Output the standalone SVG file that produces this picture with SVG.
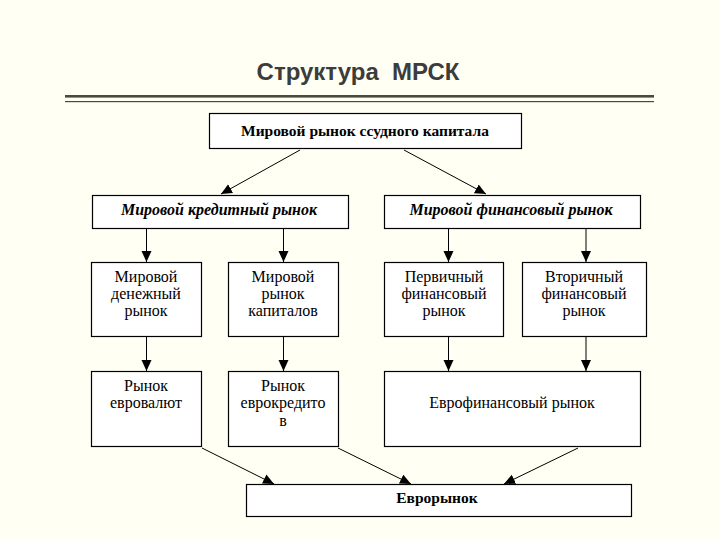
<svg xmlns="http://www.w3.org/2000/svg" width="720" height="540" viewBox="0 0 720 540">
<defs>
<style>
.bg{fill:#FFFFF3}
.box{fill:#FFFFFF;stroke:#000000;stroke-width:1.2}
.t{font-family:"Liberation Serif","Times New Roman",serif;font-size:16px;fill:#000;text-anchor:middle}
.b{font-weight:bold;font-size:15.5px}
.bi{font-weight:bold;font-style:italic;font-size:16px}
.title{font-family:"Liberation Sans",Arial,sans-serif;font-size:24px;font-weight:bold;fill:#3C3C3C;text-anchor:middle;white-space:pre}
.c{stroke:#000;stroke-width:1;fill:none}
</style>
<marker id="ah" markerUnits="userSpaceOnUse" markerWidth="12" markerHeight="12" viewBox="0 0 12 12" refX="11" refY="6" orient="auto">
<path d="M0,1 L11,6 L0,11 Z" fill="#000"/>
</marker>
</defs>
<rect class="bg" x="0" y="0" width="720" height="540"/>
<text class="title" x="358" y="80" xml:space="preserve">Структура  МРСК</text>
<rect x="65" y="95" width="589" height="2.6" fill="#4A4A3E"/>
<rect x="65" y="101" width="589" height="1.2" fill="#4A4A3E"/>

<g id="n-root"><rect class="box" x="209.5" y="113.5" width="312" height="35"/><text class="t b" x="365" y="136">Мировой рынок ссудного капитала</text></g>
<g id="n-credit"><rect class="box" x="92.5" y="195.5" width="256" height="33"/><text class="t bi" x="219" y="215">Мировой кредитный рынок</text></g>
<g id="n-fin"><rect class="box" x="384.5" y="195.5" width="256" height="33"/><text class="t bi" x="511" y="215">Мировой финансовый рынок</text></g>

<g id="n-money"><rect class="box" x="91.5" y="262.5" width="110" height="74"/><text class="t" x="146" y="282">Мировой<tspan x="146" y="299">денежный</tspan><tspan x="146" y="316">рынок</tspan></text></g>
<g id="n-capital"><rect class="box" x="228.5" y="262.5" width="110" height="74"/><text class="t" x="283" y="282">Мировой<tspan x="283" y="299">рынок</tspan><tspan x="283" y="316">капиталов</tspan></text></g>
<g id="n-primary"><rect class="box" x="384.5" y="262.5" width="119" height="74"/><text class="t" x="444" y="282">Первичный<tspan x="444" y="299">финансовый</tspan><tspan x="444" y="316">рынок</tspan></text></g>
<g id="n-secondary"><rect class="box" x="522.5" y="262.5" width="124" height="74"/><text class="t" x="584" y="282">Вторичный<tspan x="584" y="299">финансовый</tspan><tspan x="584" y="316">рынок</tspan></text></g>

<g id="n-eurocur"><rect class="box" x="91.5" y="371.5" width="110" height="75"/><text class="t" x="146" y="391">Рынок<tspan x="146" y="408">евровалют</tspan></text></g>
<g id="n-eurocred"><rect class="box" x="228.5" y="371.5" width="110" height="75"/><text class="t" x="283" y="391">Рынок<tspan x="283" y="408">еврокредито</tspan><tspan x="283" y="426">в</tspan></text></g>
<g id="n-eurofin"><rect class="box" x="384.5" y="371.5" width="256" height="75"/><text class="t" x="512" y="408">Еврофинансовый рынок</text></g>

<g id="n-euro"><rect class="box" x="246.5" y="484.5" width="385" height="32"/><text class="t b" x="437" y="503">Еврорынок</text></g>

<g id="connectors">
<line class="c" x1="300" y1="150" x2="221" y2="194" marker-end="url(#ah)"/>
<line class="c" x1="404" y1="150" x2="486" y2="194" marker-end="url(#ah)"/>
<line class="c" x1="146.5" y1="229" x2="146.5" y2="262" marker-end="url(#ah)"/>
<line class="c" x1="283.5" y1="229" x2="283.5" y2="262" marker-end="url(#ah)"/>
<line class="c" x1="448.5" y1="229" x2="448.5" y2="262" marker-end="url(#ah)"/>
<line class="c" x1="586" y1="229" x2="586" y2="262" stroke-width="2" marker-end="url(#ah)"/>
<line class="c" x1="146.5" y1="337" x2="146.5" y2="371" marker-end="url(#ah)"/>
<line class="c" x1="283.5" y1="337" x2="283.5" y2="371" marker-end="url(#ah)"/>
<line class="c" x1="448.5" y1="337" x2="448.5" y2="371" marker-end="url(#ah)"/>
<line class="c" x1="586" y1="337" x2="586" y2="371" stroke-width="2" marker-end="url(#ah)"/>
<line class="c" x1="202" y1="448" x2="274" y2="484" marker-end="url(#ah)"/>
<line class="c" x1="338" y1="448" x2="411" y2="484" marker-end="url(#ah)"/>
<line class="c" x1="578" y1="448" x2="504" y2="484" marker-end="url(#ah)"/>
</g>
</svg>
